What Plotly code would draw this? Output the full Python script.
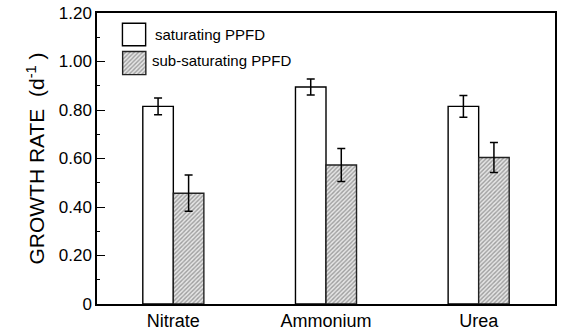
import plotly.graph_objects as go

categories = ["Nitrate", "Ammonium", "Urea"]
sat_values = [0.815, 0.895, 0.815]
sat_errors = [0.035, 0.033, 0.045]
sub_values = [0.457, 0.573, 0.604]
sub_errors = [0.075, 0.068, 0.062]
series_names = ["saturating PPFD", "sub-saturating PPFD"]
ytick_vals = [0, 0.2, 0.4, 0.6, 0.8, 1.0, 1.2]
ytick_text = ["0", "0.20", "0.40", "0.60", "0.80", "1.00", "1.20"]

FONT = "Liberation Sans, Arial, sans-serif"
W, H = 561, 335
L, R, T, B = 97, 4, 13, 29
PW, PH = W - L - R, H - T - B

hatch = dict(shape="/", fgcolor="#555555", bgcolor="#e6e6e6", size=3, solidity=0.45)

fig = go.Figure()
fig.add_trace(go.Bar(
    x=categories, y=sat_values, name=series_names[0],
    marker=dict(color="white", line=dict(color="black", width=1.4)),
    error_y=dict(type="data", array=sat_errors, color="black", thickness=1.5, width=4),
    showlegend=False,
))
fig.add_trace(go.Bar(
    x=categories, y=sub_values, name=series_names[1],
    marker=dict(color="white", pattern=hatch, line=dict(color="#222222", width=1.4)),
    error_y=dict(type="data", array=sub_errors, color="black", thickness=1.5, width=4),
    showlegend=False,
))

# Legend swatches drawn as bars on a hidden pixel-scaled overlay axis
leg_x = [37.3, 37.3]
leg_base = [260, 231]
leg_h = [22.7, 23.3]
fig.add_trace(go.Bar(x=[leg_x[0]], y=[leg_h[0]], base=[leg_base[0]], width=[23.3],
                     xaxis="x2", yaxis="y2", showlegend=False, hoverinfo="skip",
                     marker=dict(color="white", line=dict(color="black", width=1.4))))
fig.add_trace(go.Bar(x=[leg_x[1]], y=[leg_h[1]], base=[leg_base[1]], width=[23.3],
                     xaxis="x2", yaxis="y2", showlegend=False, hoverinfo="skip",
                     marker=dict(color="white", pattern=hatch, line=dict(color="#222222", width=1.4))))

def px_x(px):
    return (px - L) / PW

def px_y(py):
    return (H - B - py) / PH

annots = [
    dict(text=series_names[0], x=px_x(153), y=px_y(35), xanchor="left", yanchor="middle"),
    dict(text=series_names[1], x=px_x(150), y=px_y(61), xanchor="left", yanchor="middle"),
]
for a in annots:
    a.update(xref="paper", yref="paper", showarrow=False, font=dict(family=FONT, size=15, color="black"))

fig.update_layout(
    width=W, height=H,
    margin=dict(l=L, r=R, t=T, b=B),
    paper_bgcolor="white", plot_bgcolor="white",
    barmode="group", bargap=0.6, bargroupgap=0,
    font=dict(family=FONT, color="black"),
    annotations=annots,
    xaxis=dict(
        range=[-0.5, 2.5], showline=True, linecolor="black", linewidth=1.5,
        mirror=True, ticks="", showgrid=False, zeroline=False,
        tickfont=dict(size=18, family=FONT, color="black"),
    ),
    yaxis=dict(
        range=[0, 1.2], showline=True, linecolor="black", linewidth=1.5,
        mirror=True, ticks="inside", ticklen=8, tickwidth=1.2, tickcolor="black",
        tickvals=ytick_vals, ticktext=ytick_text, showgrid=False, zeroline=False,
        tickfont=dict(size=17, family=FONT, color="black"),
        minor=dict(ticks="inside", ticklen=3, tickwidth=1, tickcolor="black", dtick=0.1, showgrid=False),
        title=dict(text="GROWTH RATE  (d<sup>-1</sup> )", font=dict(size=21, family=FONT, color="black"), standoff=8),
    ),
    xaxis2=dict(overlaying="x", range=[0, PW], visible=False, fixedrange=True),
    yaxis2=dict(overlaying="y", range=[0, PH], visible=False, fixedrange=True),
)

fig.write_html("out.html")
